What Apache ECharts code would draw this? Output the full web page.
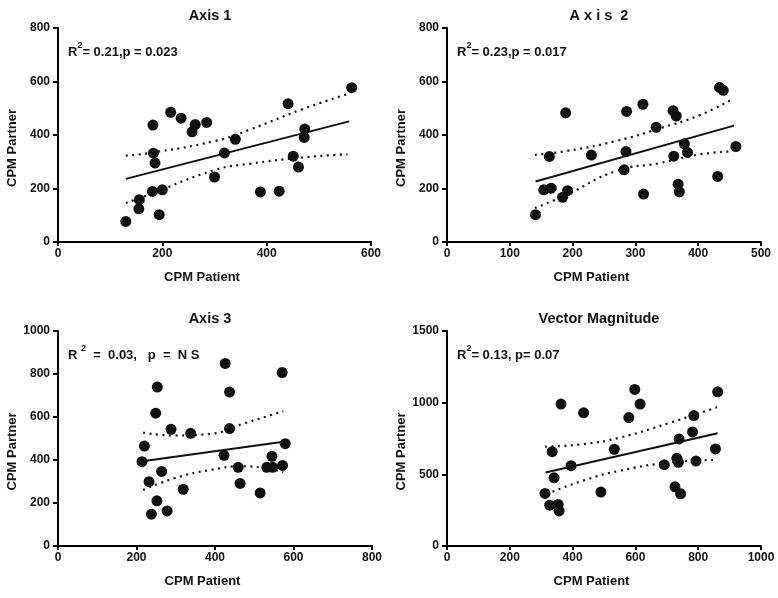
<!DOCTYPE html>
<html>
<head>
<meta charset="utf-8">
<script src="https://cdn.jsdelivr.net/npm/echarts@6/dist/echarts.min.js"></script>
<style>html,body{margin:0;padding:0;background:#fff;}#c{width:778px;height:598px;}</style>
</head>
<body>
<div id="c"></div>
<script>
// ---------- DATA ----------
const panelTitles = ['Axis 1', 'A x i s  2', 'Axis 3', 'Vector Magnitude'];
const xAxisName = 'CPM Patient';
const yAxisName = 'CPM Partner';

// Axis 1
const patient1 = [130,156,155,181,182,183,186,194,200,216,236,257,263,285,300,319,340,388,424,441,451,461,472,473,563];
const partner1 = [77,158,124,189,437,332,295,102,195,485,463,412,439,447,243,333,384,187,190,517,321,280,391,422,577];
const fit1 = [[130,236],[558,451]];
const upper1 = [[130,323],[173,332],[302,378],[366,419],[468,496],[555,553]];
const lower1 = [[130,146],[173,176],[302,270],[366,292],[468,316],[555,328]];

// Axis 2
const patient2 = [141,154,166,184,192,163,189,230,282,285,286,312,313,333,360,365,361,368,370,378,383,431,434,440,460];
const partner2 = [102,195,201,167,192,320,483,325,270,338,488,515,179,429,491,471,321,216,187,367,335,245,578,567,357];
const fit2 = [[141,226],[457,435]];
const upper2 = [[140,326],[190,340],[270,378],[339,425],[403,475],[452,531]];
const lower2 = [[140,127],[190,176],[270,266],[339,295],[403,328],[452,338]];

// Axis 3
const patient3 = [214,220,232,238,252,253,249,264,278,288,319,338,423,426,437,437,459,464,515,532,547,545,572,579,571];
const partner3 = [392,465,299,148,210,739,618,347,163,543,264,524,422,849,546,716,366,291,247,366,366,417,375,476,807];
const fit3 = [[215,394],[579,486]];
const upper3 = [[217,527],[298,514],[386,521],[472,569],[574,627]];
const lower3 = [[217,261],[298,316],[386,353],[472,371],[574,344]];

// Vector Magnitude
const patient4 = [312,327,354,357,335,341,363,395,435,490,533,579,598,615,692,726,732,737,739,744,782,786,793,855,862];
const partner4 = [367,285,290,245,658,476,990,560,929,376,675,896,1092,990,567,413,612,584,747,364,796,910,593,677,1076];
const fit4 = [[314,513],[862,786]];
const upper4 = [[312,693],[439,712],[550,756],[705,856],[860,968]];
const lower4 = [[317,362],[439,460],[550,525],[705,581],[860,600]];

// Axis ranges / ticks
const xMax = [600, 500, 800, 1000];
const xStep = [200, 100, 200, 200];
const yMax = [800, 800, 1000, 1500];
const yStep = [200, 200, 200, 500];

// Annotations
const annot = [
  {pre:'R', sup:'2', post:'= 0.21,p = 0.023'},
  {pre:'R', sup:'2', post:'= 0.23,p = 0.017'},
  {pre:'R ', sup:'2', post:'  =  0.03,   p  =  N S'},
  {pre:'R', sup:'2', post:'= 0.13, p= 0.07'}
];

// ---------- CHART ----------
const FONT = '"Liberation Sans", Arial, Helvetica, sans-serif';
const INK = '#111';
const patients = [patient1, patient2, patient3, patient4];
const partners = [partner1, partner2, partner3, partner4];
const fits = [fit1, fit2, fit3, fit4];
const uppers = [upper1, upper2, upper3, upper4];
const lowers = [lower1, lower2, lower3, lower4];

const grids = [
  {left:58, top:28, width:313, height:214},
  {left:447, top:28, width:314, height:214},
  {left:58, top:331, width:314, height:215},
  {left:447, top:331, width:314, height:215}
];

const xAxes = [], yAxes = [], series = [], graphics = [];
for (let i = 0; i < 4; i++) {
  xAxes.push({
    gridIndex:i, type:'value', min:0, max:xMax[i], interval:xStep[i],
    name:xAxisName, nameLocation:'middle', nameGap:29,
    nameTextStyle:{fontFamily:FONT, fontWeight:'bold', fontSize:13, color:INK, padding:[0,25,0,0]},
    axisLine:{show:true, onZero:false, lineStyle:{color:'#000', width:2}},
    axisTick:{show:true, length:4, lineStyle:{color:'#000', width:2}},
    axisLabel:{fontFamily:FONT, fontWeight:'bold', fontSize:12, color:INK, margin:6, formatter:v => String(v)},
    splitLine:{show:false}
  });
  yAxes.push({
    gridIndex:i, type:'value', min:0, max:yMax[i], interval:yStep[i],
    name:yAxisName, nameLocation:'middle', nameGap:39,
    nameTextStyle:{fontFamily:FONT, fontWeight:'bold', fontSize:13, color:INK, padding:[0,26,0,0]},
    axisLine:{show:true, onZero:false, lineStyle:{color:'#000', width:2}},
    axisTick:{show:true, length:5, lineStyle:{color:'#000', width:2}},
    axisLabel:{fontFamily:FONT, fontWeight:'bold', fontSize:12, color:INK, margin:8, formatter:v => String(v)},
    splitLine:{show:false}
  });
  const pts = patients[i].map((x, k) => [x, partners[i][k]]);
  series.push({
    type:'scatter', xAxisIndex:i, yAxisIndex:i, data:pts,
    symbol:'circle', symbolSize:11, itemStyle:{color:'#111', opacity:1}, z:3
  });
  series.push({
    type:'line', xAxisIndex:i, yAxisIndex:i, data:fits[i], showSymbol:false, symbol:'none',
    lineStyle:{color:'#111', width:2}, z:2
  });
  [uppers[i], lowers[i]].forEach(band => {
    series.push({
      type:'line', xAxisIndex:i, yAxisIndex:i, data:band, smooth:true, showSymbol:false, symbol:'none',
      lineStyle:{color:'#111', width:2.2, type:[2,4.5], cap:'butt'}, z:2
    });
  });
  const g = grids[i];
  graphics.push({
    type:'text', x:g.left + 152, y:g.top - 12,
    style:{text:panelTitles[i], fontFamily:FONT, fontWeight:'bold', fontSize:14.5, fill:INK,
           align:'center', verticalAlign:'middle'}
  });
  const a = annot[i];
  graphics.push({
    type:'text', x:g.left + 10, y:g.top + 22,
    style:{
      text:'{b|' + a.pre + '}{s|' + a.sup + '}{b|' + a.post + '}',
      align:'left', verticalAlign:'middle',
      rich:{
        b:{fontFamily:FONT, fontWeight:'bold', fontSize:13, fill:INK, lineHeight:18, verticalAlign:'bottom'},
        s:{fontFamily:FONT, fontWeight:'bold', fontSize:9, fill:INK, lineHeight:18, verticalAlign:'top'}
      }
    }
  });
}

const chart = echarts.init(document.getElementById('c'), null, {renderer:'canvas'});
chart.setOption({
  backgroundColor:'#fff',
  animation:false,
  grid:grids,
  xAxis:xAxes,
  yAxis:yAxes,
  series:series,
  graphic:graphics
});
</script>
</body>
</html>
